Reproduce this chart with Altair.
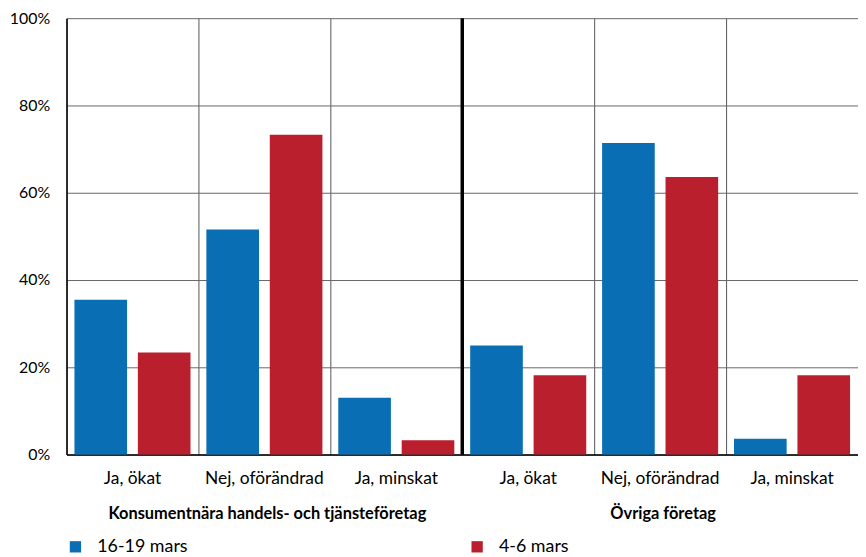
import altair as alt
import pandas as pd

# ---- data ----
keys = ["k1", "k2", "k3", "o1", "o2", "o3"]
labels = ["Ja, ökat", "Nej, oförändrad", "Ja, minskat",
          "Ja, ökat", "Nej, oförändrad", "Ja, minskat"]
group_keys = ["k2", "o2"]
group_titles = ["Konsumentnära handels- och tjänsteföretag", "Övriga företag"]
series = ["16-19 mars", "4-6 mars"]
values_a = [35.5, 51.6, 13.0, 25.0, 71.4, 3.6]   # 16-19 mars
values_b = [23.4, 73.3, 3.3, 18.2, 63.6, 18.2]   # 4-6 mars
colors = ["#0A6EB4", "#BA1F2E"]

rows = []
for k, a, b in zip(keys, values_a, values_b):
    rows.append({"key": k, "series": series[0], "value": a / 100})
    rows.append({"key": k, "series": series[1], "value": b / 100})
df = pd.DataFrame(rows)

lab_arr = "[" + ",".join(f"'{l}'" for l in labels) + "]"
key_arr = "[" + ",".join(f"'{k}'" for k in keys) + "]"
label_expr = f"{lab_arr}[indexof({key_arr}, datum.value)]"

FONT = "Lato"
W, H = 798, 440

xscale = alt.Scale(domain=keys, paddingInner=0, paddingOuter=0)

bars = alt.Chart(df).mark_bar().encode(
    x=alt.X("key:N", scale=xscale, title=None,
            axis=alt.Axis(labelExpr=label_expr, labelAngle=0,
                          grid=True, bandPosition=0, gridColor="#555555",
                          gridWidth=1, ticks=False, labelPadding=15,
                          domainColor="black", domainWidth=1.5,
                          labelFontSize=17.5, labelColor="black", labelFont=FONT)),
    xOffset=alt.XOffset("series:N",
                        scale=alt.Scale(domain=series, paddingInner=0.17, paddingOuter=0.125)),
    y=alt.Y("value:Q", scale=alt.Scale(domain=[0, 1], nice=False), title=None,
            axis=alt.Axis(format="%", values=[0, 0.2, 0.4, 0.6, 0.8, 1.0],
                          grid=True, gridColor="#666666", ticks=False,
                          labelPadding=17, domainColor="black", domainWidth=1.5,
                          labelFontSize=16, labelColor="black", labelFont=FONT)),
    color=alt.Color("series:N", scale=alt.Scale(domain=series, range=colors), title=None,
                    legend=alt.Legend(orient="none", legendX=0, legendY=524, padding=0,
                                      direction="horizontal", symbolType="square",
                                      symbolSize=130, symbolStrokeWidth=0,
                                      labelFontSize=18, labelFont=FONT, labelColor="black",
                                      labelOffset=13, columnPadding=282)),
)

sep = alt.Chart(pd.DataFrame({"key": ["o1"]})).mark_rule(
    color="black", strokeWidth=3.5
).encode(
    x=alt.X("key:N", scale=xscale, bandPosition=0, title=None),
    y=alt.value(0), y2=alt.value(H),
)

titles = alt.Chart(pd.DataFrame({"key": group_keys, "title": group_titles})).mark_text(
    font=FONT, fontSize=16.5, fontWeight="bold", color="black", baseline="middle", dx=3
).encode(
    x=alt.X("key:N", scale=xscale, title=None),
    y=alt.value(H + 60),
    text="title:N",
)

chart = alt.layer(bars, sep, titles).properties(
    width=W, height=H,
    autosize=alt.AutoSizeParams(type="none"),
    padding={"left": 59, "top": 8, "right": 0, "bottom": 101},
).configure_view(stroke=None)

chart.save("out.html", embed_options={"renderer": "svg", "actions": False})
